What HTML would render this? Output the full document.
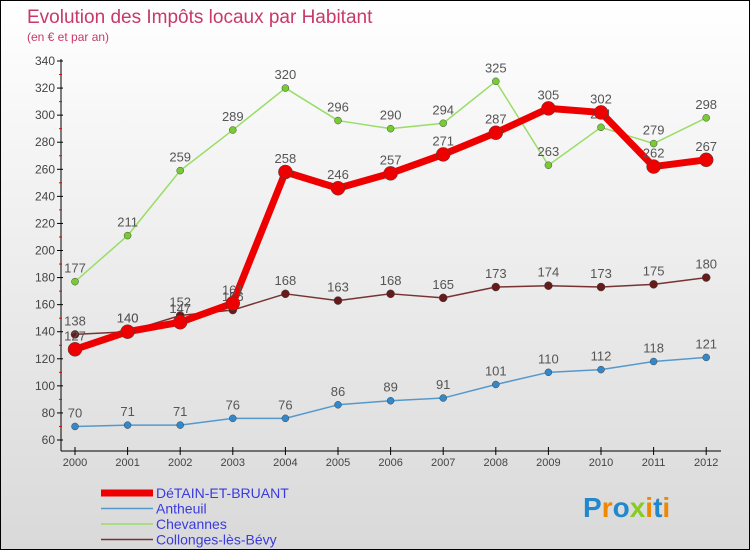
<!DOCTYPE html>
<html><head><meta charset="utf-8"><style>
body{margin:0}
#c{width:748px;height:548px;border:1px solid #000;background:linear-gradient(#fff,#d9d9d9);position:relative;font-family:"Liberation Sans",sans-serif}
</style></head><body>
<div id="c">
<svg id="s" width="748" height="548"></svg>
</div>
<script>
const years=["2000","2001","2002","2003","2004","2005","2006","2007","2008","2009","2010","2011","2012"];
const yTicks=[60,80,100,120,140,160,180,200,220,240,260,280,300,320,340];
const detain=[127,140,147,161,258,246,257,271,287,305,302,262,267];
const antheuil=[70,71,71,76,76,86,89,91,101,110,112,118,121];
const chevannes=[177,211,259,289,320,296,290,294,325,263,291,279,298];
const collonges=[138,140,152,156,168,163,168,165,173,174,173,175,180];
const names=["DéTAIN-ET-BRUANT","Antheuil","Chevannes","Collonges-lès-Bévy"];
const S=document.getElementById('s');const NS="http://www.w3.org/2000/svg";
function el(t,a,txt){const e=document.createElementNS(NS,t);for(const k in a)e.setAttribute(k,a[k]);if(txt!==undefined)e.textContent=txt;S.appendChild(e);return e;}
const X=i=>74+i*52.6, Y=v=>439-(v-60)*(379/280);
let e;
e=el('text',{x:26,y:22,'font-size':19,fill:'#c8386a'},"Evolution des Impôts locaux par Habitant");

e=el('text',{x:26,y:40,'font-size':12,fill:'#c8386a'},"(en € et par an)");

el('line',{x1:60,y1:58,x2:60,y2:450,stroke:'#000'});
el('line',{x1:60,y1:450,x2:720,y2:450,stroke:'#000'});
yTicks.forEach((v,i)=>{const y=Y(v);el('line',{x1:56,y1:y,x2:62,y2:y,stroke:'#000'});
 if(i<yTicks.length-1)el('line',{x1:58,y1:Y(v+10),x2:61,y2:Y(v+10),stroke:'#e00'});
 e=el('text',{x:54,y:y+4,'font-size':12,fill:'#444','text-anchor':'end'},v);
 });
years.forEach((yr,i)=>{el('line',{x1:X(i),y1:446,x2:X(i),y2:454,stroke:'#000'});
 e=el('text',{x:X(i),y:465,'font-size':11,fill:'#444','text-anchor':'middle'},yr);
 });
const series=[[chevannes,'#99dd66','#77cc33',1.5,3.5,'chevannes'],[antheuil,'#5599cc','#3388cc',1.5,3.5,'antheuil'],[collonges,'#773333','#661a1a',1.5,4,'collonges'],[detain,'#ee0000','#ee0000',7,7,'detain']];
series.forEach(([d,c,f,w,r,n])=>{
 e=el('polyline',{points:d.map((v,i)=>X(i)+','+Y(v)).join(' '),fill:'none',stroke:c,'stroke-width':w,'stroke-linejoin':'round'});
 
 d.forEach((v,i)=>{e=el('circle',{cx:X(i),cy:Y(v),r:r,fill:f,stroke:'#444','stroke-width':0.5});
  
  e=el('text',{x:X(i),y:Y(v)-9,'font-size':13,fill:'#555','text-anchor':'middle'},v);
  });
});
const lc=['#ee0000','#5599cc','#99dd66','#773333'],lw=[7,1.5,1.5,1.5];
names.forEach((n,i)=>{const y=492+i*15.5;el('line',{x1:100,y1:y,x2:152,y2:y,stroke:lc[i],'stroke-width':lw[i]});
 e=el('text',{x:155,y:y+5,'font-size':14,fill:'#3a3adf'},n);
 });
e=el('text',{x:582,y:516,'font-size':28,'font-weight':'bold',fill:'#3399cc'},"");

[['P','#2288cc'],['r','#ee8800'],['o','#2288cc'],['x','#88cc22'],['i','#ee8800'],['t','#2288cc'],['i','#ee8800']].forEach(([ch,c])=>{const t=document.createElementNS(NS,'tspan');t.setAttribute('fill',c);t.textContent=ch;e.appendChild(t);});
</script>
</body></html>
